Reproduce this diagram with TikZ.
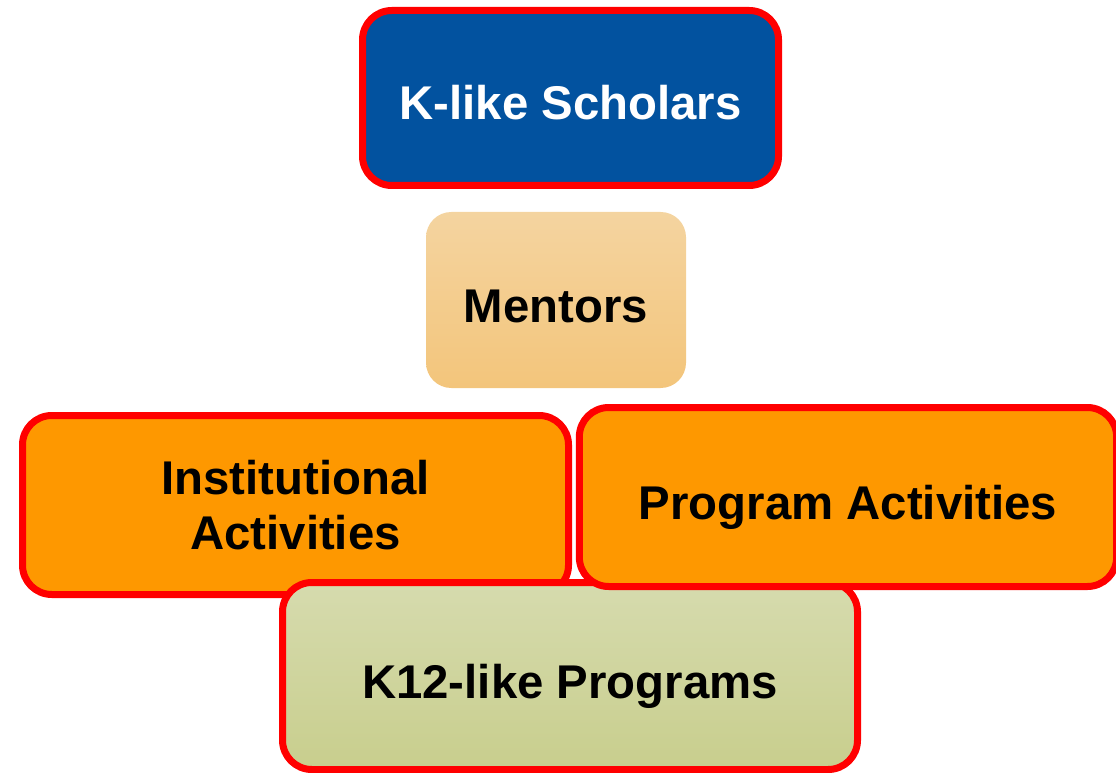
\documentclass[tikz,border=0pt]{standalone}
\usepackage{fontspec}
\setmainfont{Liberation Sans}
\usepackage{tikz}

\definecolor{scholarblue}{HTML}{02529F}
\definecolor{actorange}{HTML}{FE9800}
\definecolor{mentortop}{HTML}{F4D4A0}
\definecolor{mentorbot}{HTML}{F3C57B}
\definecolor{progtop}{HTML}{D6DBAE}
\definecolor{progbot}{HTML}{C8CE8D}

\tikzset{
    box/.style={rounded corners=22pt, inner sep=0pt,
        font=\fontsize{35.5}{41}\selectfont\bfseries},
    redbox/.style={box, draw=red, line width=5.25pt},
    % single line labels sit a little low in their boxes
    oneline/.style={text height=33pt, text depth=0pt}
}

\begin{document}
\begin{tikzpicture}[x=0.75pt,y=-0.75pt]
                \useasboundingbox (0,0) rectangle (1116,773);

                \node[redbox, oneline, fill=scholarblue, text=white, minimum width=312pt, minimum height=131.25pt] (scholars) at (570.5,98) {K-like Scholars};
                \node[box, oneline, rounded corners=19pt, top color=mentortop, bottom color=mentorbot, minimum width=195pt, minimum height=132pt] (mentors) at (556,300) {Mentors};

                \node[redbox, align=center, fill=actorange, minimum width=409.5pt, minimum height=134.25pt] (inst) at (295.5,505) {Institutional\\Activities};
                \node[redbox, oneline, top color=progtop, bottom color=progbot, minimum width=431.25pt, minimum height=140.25pt] (k12) at (570,676) {K12-like Programs};
                \node[redbox, oneline, fill=actorange, minimum width=403pt, minimum height=134.25pt] (prog) at (848,497) {Program Activities};
            \end{tikzpicture}
\end{document}
